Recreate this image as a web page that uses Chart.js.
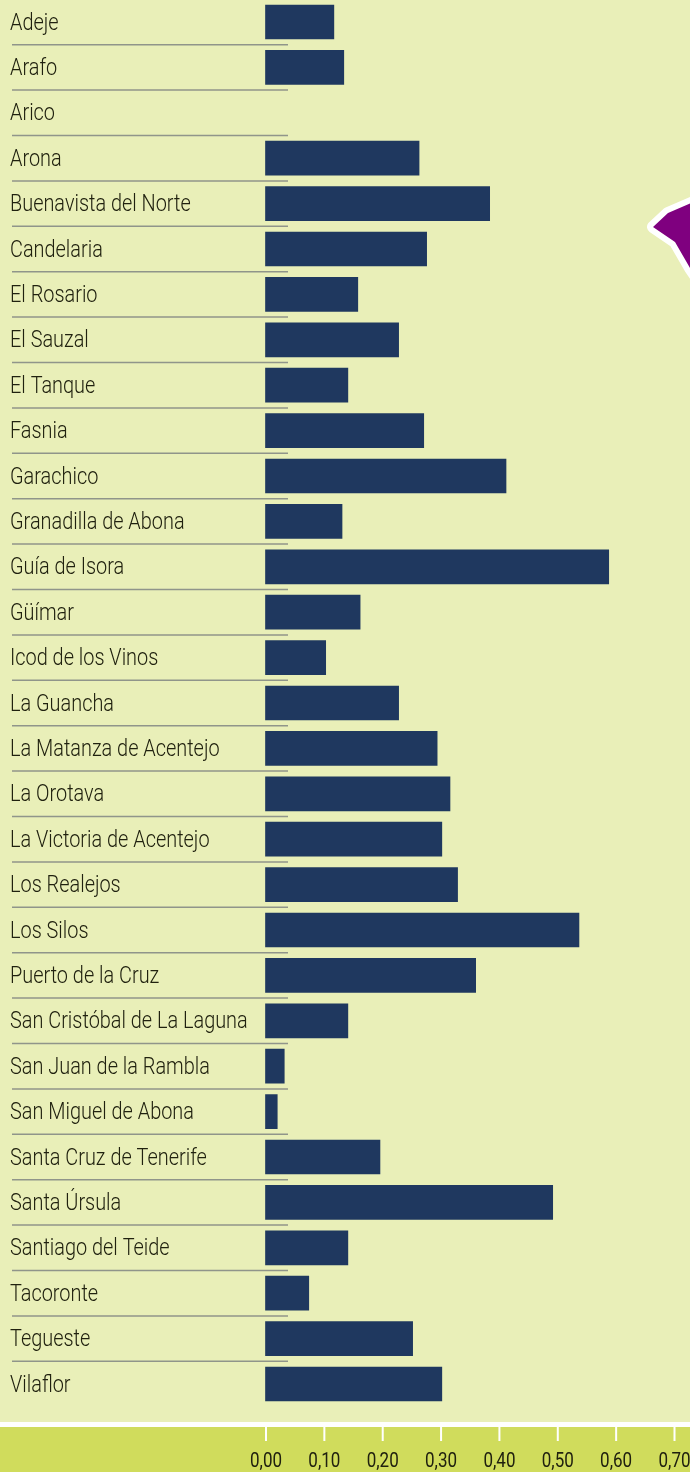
<!DOCTYPE html>
<html>
<head>
<meta charset="utf-8">
<title>Municipios de Tenerife</title>
<script src="https://cdn.jsdelivr.net/npm/chart.js@4/dist/chart.umd.min.js"></script>
<style>
  html, body { margin: 0; padding: 0; width: 690px; height: 1472px; overflow: hidden; background: #e9efb8; }
  .footer { position: absolute; left: 0; top: 1422px; width: 690px; height: 50px; box-sizing: border-box; border-top: 5px solid #fff; background: #d0dc5c; }
  .star { position: absolute; left: 630px; top: 190px; }
  #chart { position: absolute; left: 0; top: -1px; }
</style>
</head>
<body>
<div class="footer"></div>
<svg class="star" width="60" height="90" viewBox="0 0 60 90">
  <polygon points="23,37 38,23 80,5 75,100 60,78 45,52" fill="#7f007f" stroke="#fff" stroke-width="12" stroke-linejoin="round" paint-order="stroke"/>
</svg>
<canvas id="chart" width="690" height="1473"></canvas>
<script>
var municipios = ["Adeje", "Arafo", "Arico", "Arona", "Buenavista del Norte", "Candelaria", "El Rosario", "El Sauzal", "El Tanque", "Fasnia", "Garachico", "Granadilla de Abona", "Guía de Isora", "Güímar", "Icod de los Vinos", "La Guancha", "La Matanza de Acentejo", "La Orotava", "La Victoria de Acentejo", "Los Realejos", "Los Silos", "Puerto de la Cruz", "San Cristóbal de La Laguna", "San Juan de la Rambla", "San Miguel de Abona", "Santa Cruz de Tenerife", "Santa Úrsula", "Santiago del Teide", "Tacoronte", "Tegueste", "Vilaflor"];
var valores = [0.118, 0.135, null, 0.264, 0.385, 0.277, 0.159, 0.229, 0.142, 0.272, 0.413, 0.132, 0.589, 0.163, 0.104, 0.229, 0.295, 0.317, 0.303, 0.330, 0.538, 0.361, 0.142, 0.033, 0.021, 0.197, 0.493, 0.142, 0.075, 0.253, 0.303];
var xLabels = ["0,00", "0,10", "0,20", "0,30", "0,40", "0,50", "0,60", "0,70"];

// separators between rows, they run past the axis into the bars' gaps
var rowLines = {
  id: "rowLines",
  beforeDatasetsDraw: function (chart) {
    var y = chart.scales.y, ctx = chart.ctx;
    var band = y.getPixelForTick(1) - y.getPixelForTick(0);
    ctx.save();
    ctx.strokeStyle = "#90958a";
    ctx.lineWidth = 1.5;
    for (var i = 0; i < municipios.length - 1; i++) {
      var py = y.getPixelForTick(i) + band / 2;
      ctx.beginPath();
      ctx.moveTo(12, py);
      ctx.lineTo(288, py);
      ctx.stroke();
    }
    ctx.restore();
  }
};

// no condensed font is installed, so tick text is squeezed horizontally here
function narrowText(ctx, text, x, y, font, squeeze, align) {
  ctx.save();
  ctx.translate(x, y);
  ctx.scale(squeeze, 1);
  ctx.font = font;
  ctx.textAlign = align;
  ctx.textBaseline = "alphabetic";
  ctx.fillStyle = "#20210f";
  ctx.fillText(text, 0, 0);
  ctx.restore();
}

var axisText = {
  id: "axisText",
  afterDraw: function (chart) {
    var x = chart.scales.x, y = chart.scales.y, ctx = chart.ctx;
    y.ticks.forEach(function (t, i) {
      narrowText(ctx, t.label, 10, y.getPixelForTick(i) + 7.5, "300 23px Roboto", 0.865, "left");
    });
    x.ticks.forEach(function (t, i) {
      var px = x.getPixelForTick(i);
      // white ticks sit inside the footer band, well below the plot area
      ctx.fillStyle = "#fff";
      ctx.fillRect(px, 1428, 2, 14);
      narrowText(ctx, t.label, px + 1, 1468, "20.5px Roboto", 0.83, "center");
    });
  }
};

new Chart("chart", {
  type: "bar",
  data: {
    labels: municipios,
    datasets: [{
      data: valores,
      backgroundColor: "#1f385f",
      barThickness: 34
    }]
  },
  plugins: [rowLines, axisText],
  options: {
    indexAxis: "y",
    responsive: false,
    animation: false,
    layout: { padding: { left: 10, right: 16.5, top: 0.3, bottom: 0 } },
    plugins: { legend: { display: false }, tooltip: { enabled: false } },
    scales: {
      x: {
        min: 0,
        max: 0.7,
        afterFit: function (scale) { scale.height = 65.3; },
        grid: { drawOnChartArea: false, drawTicks: false },
        border: { display: false },
        ticks: {
          display: false,
          stepSize: 0.1,
          autoSkip: false,
          callback: function (value, index) { return xLabels[index]; }
        }
      },
      y: {
        afterFit: function (scale) { scale.width = 255; },
        grid: { display: false },
        border: { display: false },
        ticks: { display: false, autoSkip: false }
      }
    }
  }
});
</script>
</body>
</html>
